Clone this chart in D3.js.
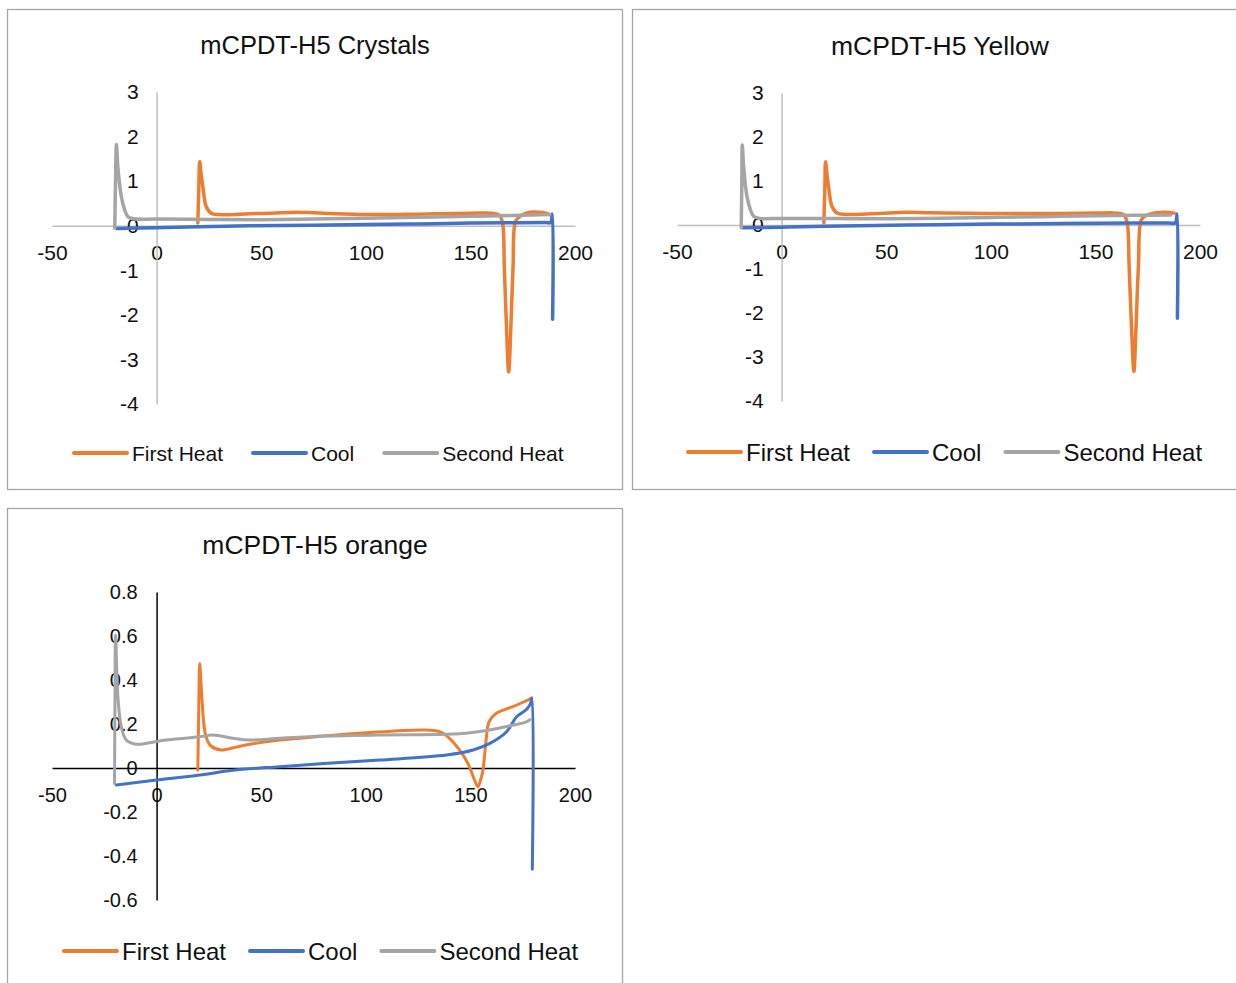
<!DOCTYPE html>
<html>
<head>
<meta charset="utf-8">
<script src="https://cdn.jsdelivr.net/npm/d3@7/dist/d3.min.js"></script>
<style>
  body { margin: 0; background: #fff; }
  svg { display: block; }
</style>
</head>
<body>
<svg id="chart" width="1236" height="983"></svg>
<script>
// ---- data (x = temperature, y = heat flow) ----
const crystalsFirstHeat = [
  [19.7, 0.06], [20.2, 0.9], [20.6, 1.44], [21.3, 1.15], [22.1, 0.88], [23.7, 0.43], [26.1, 0.28],
  [30.1, 0.25], [44.5, 0.27], [55, 0.28], [67, 0.3], [80, 0.28], [100, 0.25], [125, 0.26],
  [150, 0.28], [160, 0.28], [163.8, 0.24], [165.4, 0.05], [166.2, -0.9], [167.2, -2.2],
  [168.3, -3.28], [169.4, -2.2], [170.4, -0.9], [171.6, 0.1], [174, 0.22], [178.3, 0.3],
  [183, 0.3], [186, 0.28], [187.9, 0.25]
];
const crystalsCool = [
  [189.3, -2.1], [189.2, 0.26], [188.3, 0.07], [186, 0.07], [170, 0.065], [150, 0.06],
  [125, 0.04], [100, 0.025], [75, 0.012], [44.5, 0], [20, -0.025], [0, -0.045], [-19, -0.06]
];
const crystalsSecondHeat = [
  [-20, -0.05], [-19.6, 1.1], [-19.2, 1.82], [-18.5, 1.3], [-16.9, 0.66], [-15.3, 0.36],
  [-13.7, 0.2], [-11, 0.155], [0, 0.15], [25, 0.14], [50, 0.135], [75, 0.15], [100, 0.17],
  [125, 0.19], [150, 0.21], [170, 0.23], [180, 0.24], [187.9, 0.25]
];

const yellowFirstHeat = [
  [20.2, 0.05], [20.7, 0.9], [21.0, 1.44], [21.7, 1.15], [22.5, 0.85], [24.1, 0.42], [26.5, 0.27],
  [30.5, 0.24], [45, 0.26], [60, 0.29], [70, 0.28], [100, 0.26], [125, 0.26], [150, 0.27],
  [160, 0.27], [163.6, 0.23], [165.2, 0.05], [166.1, -0.9], [167.2, -2.25], [168.4, -3.33],
  [169.5, -2.2], [170.6, -0.9], [172, 0.12], [174.5, 0.22], [179, 0.28], [184, 0.29],
  [187.6, 0.27]
];
const yellowCool = [
  [189.2, -2.12], [189.1, 0.25], [188.2, 0.05], [185, 0.045], [170, 0.045], [150, 0.04],
  [125, 0.03], [100, 0.02], [75, 0.005], [45, -0.01], [20, -0.03], [0, -0.05], [-18.5, -0.065]
];
const yellowSecondHeat = [
  [-19.3, -0.06], [-19.0, 1.0], [-18.8, 1.82], [-18.1, 1.3], [-16.6, 0.66], [-15, 0.36],
  [-13.4, 0.2], [-10.5, 0.15], [0, 0.15], [25, 0.145], [50, 0.14], [75, 0.155], [100, 0.17],
  [125, 0.19], [150, 0.21], [170, 0.22], [186, 0.23]
];

const orangeFirstHeat = [
  [19.7, -0.01], [20.2, 0.3], [20.6, 0.475], [21.4, 0.36], [22.6, 0.2], [23.7, 0.14], [26, 0.1],
  [30.9, 0.082], [38, 0.095], [44.5, 0.108], [58.8, 0.127], [80, 0.145], [100, 0.16],
  [127.3, 0.173], [135.3, 0.165], [140, 0.135], [144.8, 0.082], [148.8, 0.021], [152, -0.055],
  [153.6, -0.085], [155, -0.05], [156, -0.01], [157.6, 0.135], [158.9, 0.21], [162.4, 0.249],
  [170.3, 0.279], [177.5, 0.309], [179.2, 0.318]
];
const orangeCool = [
  [179.6, -0.46], [179.45, 0.318], [178.6, 0.29], [176.9, 0.267], [172.1, 0.233], [167.3, 0.165],
  [159.3, 0.112], [151.3, 0.082], [138.5, 0.059], [106.6, 0.036], [80, 0.02], [58.8, 0.006],
  [36.5, -0.01], [20.6, -0.032], [0, -0.055], [-19.3, -0.077]
];
const orangeSecondHeat = [
  [-20.1, -0.07], [-19.9, 0.3], [-19.6, 0.605], [-18.5, 0.324], [-16.9, 0.188], [-14.5, 0.127],
  [-9.7, 0.108], [-3.3, 0.115], [4.6, 0.127], [20.6, 0.142], [26.9, 0.15], [36.5, 0.135],
  [44.5, 0.127], [58.8, 0.135], [80, 0.145], [106.6, 0.15], [138.5, 0.153], [150, 0.16],
  [159, 0.173], [168, 0.19], [176.7, 0.21], [178.5, 0.22]
];

const seriesNames = ["First Heat", "Cool", "Second Heat"];
const seriesColors = ["#ED7D31", "#4472C4", "#A5A5A5"];
const titles = ["mCPDT-H5 Crystals", "mCPDT-H5 Yellow", "mCPDT-H5 orange"];
const xTicks = [-50, 0, 50, 100, 150, 200];
const yTicksWide = [-4, -3, -2, -1, 0, 1, 2, 3];
const yTicksOrange = [-0.6, -0.4, -0.2, 0, 0.2, 0.4, 0.6, 0.8];

const FONT = "'Liberation Sans', Arial, sans-serif";
const svg = d3.select("#chart");

// panel frames
svg.append("rect").attr("x", 7.5).attr("y", 9.5).attr("width", 615).attr("height", 480)
  .attr("fill", "none").attr("stroke", "#a6a6a6").attr("stroke-width", 1.3);
svg.append("rect").attr("x", 632.5).attr("y", 9.5).attr("width", 620).attr("height", 480)
  .attr("fill", "none").attr("stroke", "#a6a6a6").attr("stroke-width", 1.3);
svg.append("rect").attr("x", 7.5).attr("y", 508.5).attr("width", 615).attr("height", 500)
  .attr("fill", "none").attr("stroke", "#a6a6a6").attr("stroke-width", 1.3);

function fmt(d) {
  if (d === 0) return "0";
  return Number.isInteger(d) ? String(d) : d.toFixed(1);
}

function drawPanel(p) {
  const x = d3.scaleLinear().domain([-50, 200]).range(p.xRange);
  const y = d3.scaleLinear().domain(p.yDomain).range(p.yRange);
  const g = svg.append("g");

  g.append("text")
    .attr("x", p.titleX).attr("y", p.titleY)
    .attr("text-anchor", "middle").attr("dominant-baseline", "central")
    .attr("font-family", FONT).attr("font-size", p.titleSize).attr("fill", "#111")
    .text(p.title);

  const xAxis = g.append("g")
    .attr("transform", "translate(0," + y(0) + ")")
    .call(d3.axisBottom(x).tickValues(xTicks).tickSize(0).tickSizeOuter(0)
      .tickPadding(p.xPad).tickFormat(fmt));

  const yAxis = g.append("g")
    .attr("transform", "translate(" + x(0) + ",0)")
    .call(d3.axisLeft(y).tickValues(p.yTicks).tickSize(0).tickSizeOuter(0)
      .tickPadding(p.yPad).tickFormat(fmt));

  [xAxis, yAxis].forEach(a => {
    a.attr("font-family", FONT).attr("font-size", p.tickSize);
    a.select(".domain").attr("stroke", p.axisColor).attr("stroke-width", 1.5);
    a.selectAll("text").attr("fill", "#111");
  });

  const line = d3.line()
    .x(d => x(d[0]))
    .y(d => y(d[1]))
    .curve(d3.curveCatmullRom.alpha(0.5));

  p.series.forEach((s, i) => {
    g.append("path")
      .datum(s)
      .attr("d", line)
      .attr("fill", "none")
      .attr("stroke", seriesColors[i])
      .attr("stroke-width", p.lineWidth)
      .attr("stroke-linecap", "round")
      .attr("stroke-linejoin", "round");
  });

  // legend
  let cx = p.legendX;
  seriesNames.forEach((name, i) => {
    g.append("line")
      .attr("x1", cx).attr("x2", cx + 53)
      .attr("y1", p.legendY).attr("y2", p.legendY)
      .attr("stroke", seriesColors[i]).attr("stroke-width", 4)
      .attr("stroke-linecap", "round");
    const t = g.append("text")
      .attr("x", cx + 58).attr("y", p.legendY)
      .attr("dominant-baseline", "central")
      .attr("font-family", FONT).attr("font-size", p.legendSize).attr("fill", "#111")
      .text(name);
    cx = cx + 58 + t.node().getComputedTextLength() + p.legendGap;
  });
}

drawPanel({
  title: titles[0], titleX: 315, titleY: 45, titleSize: 25.5,
  xRange: [52, 575], yDomain: [-4, 3], yRange: [404, 92], yTicks: yTicksWide,
  axisColor: "#bfbfbf", tickSize: 21, xPad: 19, yPad: 18, lineWidth: 3.5,
  series: [crystalsFirstHeat, crystalsCool, crystalsSecondHeat],
  legendX: 74, legendY: 453, legendSize: 21, legendGap: 30
});

drawPanel({
  title: titles[1], titleX: 940, titleY: 46, titleSize: 26.5,
  xRange: [677, 1200], yDomain: [-4, 3], yRange: [401, 93], yTicks: yTicksWide,
  axisColor: "#bfbfbf", tickSize: 21, xPad: 19, yPad: 18, lineWidth: 3.5,
  series: [yellowFirstHeat, yellowCool, yellowSecondHeat],
  legendX: 688, legendY: 452, legendSize: 24, legendGap: 24
});

drawPanel({
  title: titles[2], titleX: 315, titleY: 545, titleSize: 26.5,
  xRange: [52, 575], yDomain: [-0.6, 0.8], yRange: [900, 592], yTicks: yTicksOrange,
  axisColor: "#000", tickSize: 20, xPad: 20, yPad: 19, lineWidth: 3,
  series: [orangeFirstHeat, orangeCool, orangeSecondHeat],
  legendX: 64, legendY: 951, legendSize: 24, legendGap: 24
});
</script>
</body>
</html>
